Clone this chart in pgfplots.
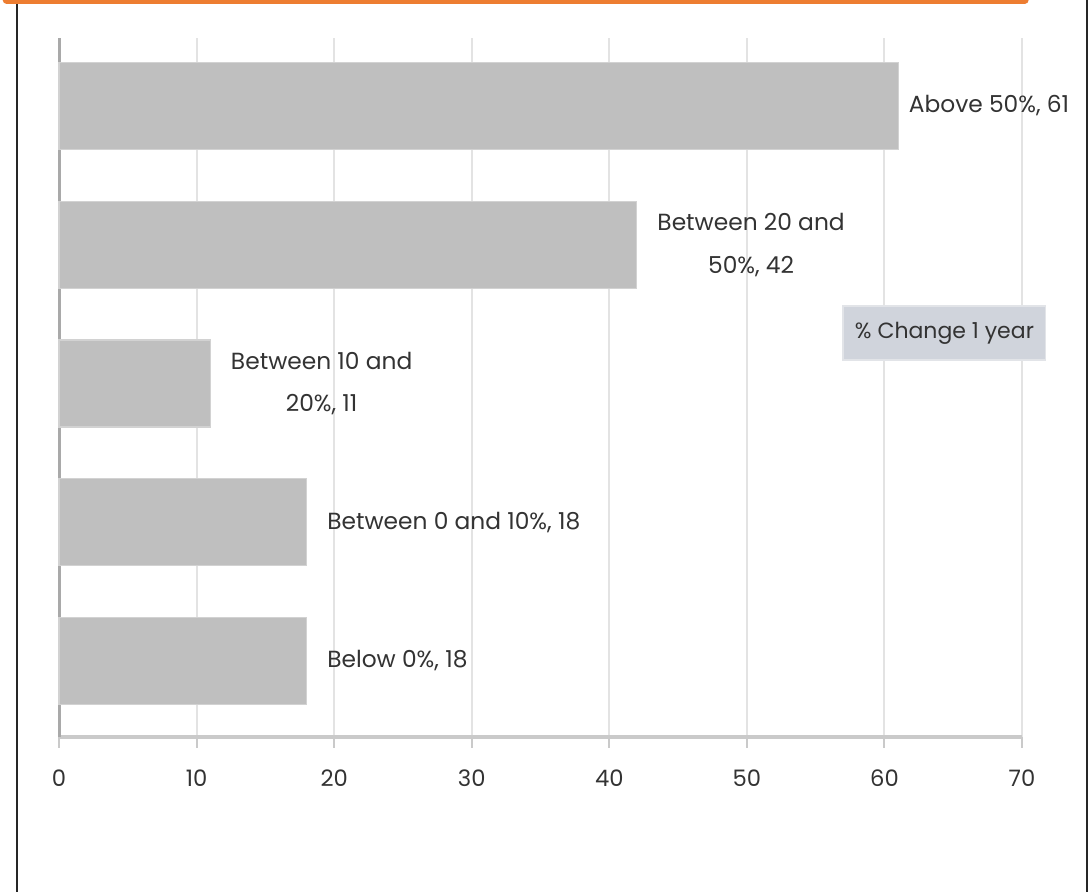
\documentclass[border=0pt]{standalone}
\usepackage{fontspec}
\setmainfont{Poppins}
\usepackage{pgfplots}
\pgfplotsset{compat=1.18}
\usepackage{pgfplotstable}
\definecolor{orangeC}{HTML}{ED7D31}
\definecolor{barfill}{HTML}{BFBFBF}
\definecolor{bardraw}{HTML}{D2D2D2}
\definecolor{gridc}{HTML}{E3E3E3}
\definecolor{axisc}{HTML}{CACACA}
\definecolor{yaxisc}{HTML}{A9A9A9}
\definecolor{labc}{HTML}{333333}
\definecolor{boxfill}{HTML}{D0D4DC}
\definecolor{boxdraw}{HTML}{E2E4E8}

\pgfplotstableread[col sep=comma]{
x,y,shift,label
18,0,15,{Below 0\%, 18}
18,1,15,{Between 0 and 10\%, 18}
11,2,15,{Between 10 and\\[12pt]20\%, 11}
42,3,15,{Between 20 and\\[12pt]50\%, 42}
61,4,7.5,{Above 50\%, 61}
}\datatable

\begin{document}
\begin{tikzpicture}[x=1pt,y=1pt]
\useasboundingbox (0,0) rectangle (816.75,669);
\fill[white] (0,0) rectangle (816.75,669);
\fill[orangeC, rounded corners=3pt] (2,666) rectangle (771.5,690);
\draw[black!85, line width=1.5pt] (12.75,0) -- (12.75,666);
\draw[black!85, line width=1.5pt] (815.6,0) -- (815.6,669);
\begin{axis}[
  at={(44.25pt,116.25pt)}, anchor=south west,
  scale only axis, width=722.25pt, height=524.25pt,
  xmin=0, xmax=70, ymin=-0.548, ymax=4.49,
  clip=false,
  xbar, bar width=65.25pt,
  axis x line*=bottom, axis y line*=left,
  x axis line style={-, draw=axisc, line width=3pt},
  y axis line style={-, draw=yaxisc, line width=2.25pt},
  xtick={0,10,...,70}, ytick=\empty,
  tick align=outside, major tick length=8pt,
  xtick style={draw=axisc, line width=1.5pt},
  xmajorgrids, grid style={draw=gridc, line width=1.5pt},
  xticklabel style={font=\fontsize{17}{20}\selectfont, text=labc, yshift=-13pt},
  /pgf/number format/assume math mode=true,
  point meta=explicit symbolic,
  visualization depends on={\thisrow{shift} \as \myshift},
  nodes near coords,
  every node near coord/.append style={anchor=west, xshift=\myshift pt, align=center, inner sep=0pt,
    font=\fontsize{17.5}{20}\selectfont, text=labc},
]
\addplot[fill=barfill, draw=bardraw, line width=1pt] table[x=x, y=y, meta=label] {\datatable};
\node[fill=boxfill, draw=boxdraw, line width=1pt, minimum width=152pt, minimum height=40.5pt,
  inner sep=0pt, font=\fontsize{16.5}{18}\selectfont, text=labc] at (rel axis cs:0.9195,0.578) {\% Change 1 year};
\end{axis}
\end{tikzpicture}
\end{document}
